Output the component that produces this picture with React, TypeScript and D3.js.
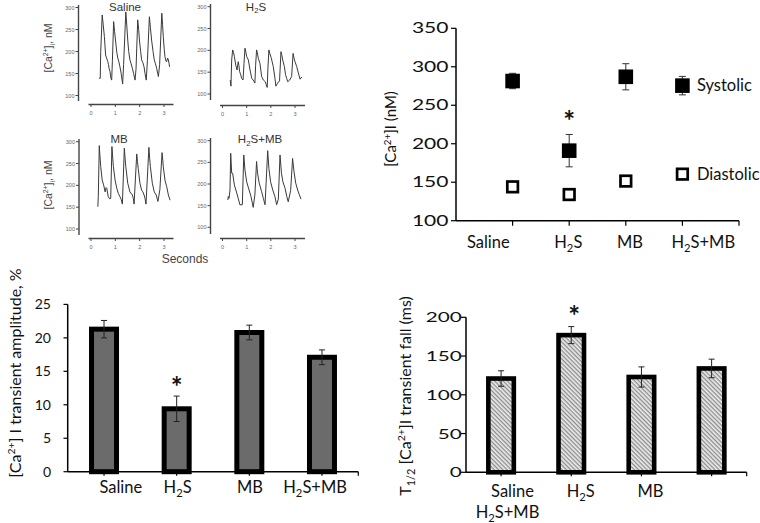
import React from "react";
import * as d3 from "d3";

type Pt = [number, number];

// ---------- DATA ----------
const traceYTicks = [100, 150, 200, 250, 300];
const traceXTicks = [0, 1, 2, 3];

const salineTrace: Pt[] = [
  [0.34, 138], [0.36, 140], [0.38, 139], [0.40, 200], [0.46, 283], [0.50, 262], [0.55, 234], [0.60, 192],
  [0.64, 185], [0.69, 177], [0.72, 170], [0.74, 162], [0.78, 155], [0.82, 139], [0.85, 135], [0.88, 180],
  [0.93, 268], [0.97, 245], [1.02, 219], [1.06, 198], [1.10, 185], [1.14, 178], [1.19, 165], [1.24, 150],
  [1.30, 126], [1.34, 170], [1.43, 290], [1.47, 260], [1.51, 226], [1.55, 200], [1.60, 181], [1.65, 172],
  [1.70, 162], [1.75, 150], [1.81, 135], [1.85, 160], [1.92, 272], [1.96, 250], [1.99, 226], [2.04, 200],
  [2.08, 181], [2.13, 175], [2.18, 165], [2.22, 150], [2.27, 135], [2.32, 180], [2.40, 279], [2.44, 255],
  [2.49, 226], [2.55, 200], [2.60, 181], [2.65, 172], [2.70, 162], [2.74, 150], [2.77, 143], [2.82, 170],
  [2.91, 287], [2.94, 262], [2.97, 234], [3.01, 205], [3.04, 188], [3.08, 178], [3.11, 177], [3.15, 185],
  [3.18, 181], [3.21, 172], [3.23, 165],
];

const h2sTrace: Pt[] = [
  [0.32, 132], [0.35, 118], [0.38, 178], [0.42, 201], [0.46, 195], [0.49, 186], [0.55, 166], [0.60, 155],
  [0.65, 174], [0.68, 165], [0.71, 151], [0.75, 145], [0.79, 136], [0.85, 132], [0.89, 170], [0.93, 205],
  [0.97, 195], [1.00, 186], [1.07, 178], [1.14, 155], [1.21, 136], [1.27, 132], [1.34, 125], [1.37, 165],
  [1.41, 201], [1.44, 195], [1.48, 182], [1.55, 170], [1.62, 140], [1.69, 132], [1.77, 128], [1.85, 115],
  [1.88, 160], [1.92, 201], [1.96, 192], [2.01, 184], [2.05, 175], [2.10, 163], [2.17, 136], [2.21, 118],
  [2.28, 125], [2.36, 130], [2.42, 197], [2.46, 188], [2.49, 178], [2.56, 163], [2.61, 144], [2.66, 135],
  [2.70, 128], [2.78, 132], [2.86, 140], [2.92, 193], [2.96, 182], [3.00, 174], [3.07, 163], [3.14, 148],
  [3.21, 134], [3.28, 139],
];

const mbTrace: Pt[] = [
  [0.28, 151], [0.30, 174], [0.34, 291], [0.37, 265], [0.40, 243], [0.46, 212], [0.52, 201], [0.58, 185],
  [0.62, 195], [0.65, 193], [0.71, 174], [0.77, 169], [0.81, 170], [0.86, 289], [0.89, 265], [0.92, 243],
  [0.99, 212], [1.06, 193], [1.12, 182], [1.19, 174], [1.24, 168], [1.29, 157], [1.37, 285], [1.40, 262],
  [1.43, 243], [1.51, 205], [1.60, 185], [1.70, 178], [1.74, 170], [1.77, 157], [1.88, 272], [1.91, 255],
  [1.94, 239], [2.01, 205], [2.08, 189], [2.13, 185], [2.18, 178], [2.22, 170], [2.26, 157], [2.38, 287],
  [2.41, 262], [2.44, 243], [2.52, 205], [2.60, 185], [2.68, 178], [2.75, 163], [2.83, 190], [2.92, 275],
  [2.95, 258], [2.97, 243], [3.04, 212], [3.11, 197], [3.18, 178], [3.25, 166],
];

const h2smbTrace: Pt[] = [
  [0.22, 163], [0.24, 171], [0.27, 167], [0.31, 186], [0.34, 271], [0.38, 225], [0.42, 225], [0.49, 198],
  [0.59, 179], [0.65, 167], [0.72, 152], [0.82, 152], [0.88, 267], [0.93, 232], [1.00, 205], [1.10, 186],
  [1.18, 171], [1.27, 146], [1.34, 175], [1.41, 252], [1.45, 225], [1.52, 202], [1.62, 182], [1.69, 167],
  [1.76, 152], [1.87, 277], [1.92, 236], [1.99, 205], [2.08, 186], [2.17, 171], [2.24, 152], [2.31, 165],
  [2.38, 267], [2.44, 225], [2.50, 205], [2.59, 190], [2.66, 171], [2.72, 159], [2.82, 185], [2.90, 259],
  [2.96, 228], [3.03, 202], [3.11, 186], [3.18, 175], [3.25, 165],
];

const groups = ["Saline", "H2S", "MB", "H2S+MB"];

const systolic = [281.5, 191, 287, 275.5];
const systolicErr = [10, 21, 17, 12];
const diastolic = [144, 134, 151.5, 160.5];
const diastolicErr = [4, 4, 6, 4];
const concTicks = [100, 150, 200, 250, 300, 350];

const amplitude = [21.3, 9.4, 20.8, 17.1];
const amplitudeErr = [1.3, 1.9, 1.1, 1.1];
const amplitudeTicks = [0, 5, 10, 15, 20, 25];

const fallTime = [121, 177, 123, 134];
const fallTimeErr = [10, 11, 13, 12];
const fallTicks = [0, 50, 100, 150, 200];

// ---------- LAYOUT ----------
const FONT = "Lato, 'Open Sans', sans-serif";
const TFONT = "'Liberation Sans', Arial, sans-serif";

const tracePanels = [
  { title: "Saline", data: salineTrace, xr: [91, 164], yr: [95.5, 7.5], axX: 78.5, axY: 104.5, yTop: 5, yBot: 101, xL: 88.5, xR: 173.5, tx: 125, ty: 10.5 },
  { title: "H2S", data: h2sTrace, xr: [222.5, 295], yr: [94, 6.7], axX: 210.5, axY: 105.5, yTop: 4, yBot: 100, xL: 220, xR: 305, tx: 256, ty: 10.5 },
  { title: "MB", data: mbTrace, xr: [91, 164], yr: [229, 141.7], axX: 79, axY: 238.5, yTop: 139, yBot: 235, xL: 88.5, xR: 173.5, tx: 119, ty: 143 },
  { title: "H2S+MB", data: h2smbTrace, xr: [222.5, 295], yr: [227.3, 140.7], axX: 210.5, axY: 238.5, yTop: 138, yBot: 234, xL: 220, xR: 305, tx: 260, ty: 143 },
];

const topRightLabelDx = [-24.3, -0.9, 4.2, 20.9];
const ampLabelDx = [16.8, 0.9, 0.7, -6.9];
const fallLabelOffset: Pt[] = [[11.4, 0], [9.5, 0], [9.1, 0], [-204.1, 21]];

function GroupText({ name, size }: { name: string; size: number }) {
  if (name.startsWith("H2S")) {
    const sub = size * 0.25;
    return (
      <>
        H
        <tspan dy={sub} fontSize={size * 0.68}>2</tspan>
        <tspan dy={-sub}>{"S" + name.slice(3)}</tspan>
      </>
    );
  }
  return <>{name}</>;
}

function CaText({ size, tail }: { size: number; tail: string }) {
  const up = size * 0.38;
  return (
    <>
      [Ca
      <tspan dy={-up} fontSize={size * 0.65}>2+</tspan>
      <tspan dy={up}>{tail}</tspan>
    </>
  );
}

function TracePanel({ p }: { p: (typeof tracePanels)[number] }) {
  const x = d3.scaleLinear().domain([0, 3]).range(p.xr);
  const y = d3.scaleLinear().domain([100, 300]).range(p.yr);
  const line = d3.line<Pt>().x((d) => x(d[0])).y((d) => y(d[1]));
  return (
    <g>
      <line x1={p.axX} x2={p.axX} y1={p.yTop} y2={p.yBot} stroke="#444" strokeWidth={1.4} />
      {traceYTicks.map((t) => (
        <g key={t}>
          <line x1={p.axX - 3} x2={p.axX} y1={y(t)} y2={y(t)} stroke="#444" strokeWidth={1} />
          <text x={p.axX - 4} y={y(t) + 2} fontSize={5.5} textAnchor="end" fill="#666" fontFamily={TFONT}>
            {t}
          </text>
        </g>
      ))}
      <line x1={p.xL} x2={p.xR} y1={p.axY} y2={p.axY} stroke="#444" strokeWidth={1.4} />
      {traceXTicks.map((t) => (
        <g key={t}>
          <line x1={x(t)} x2={x(t)} y1={p.axY} y2={p.axY + 2.5} stroke="#444" strokeWidth={1} />
          <text x={x(t)} y={p.axY + 10} fontSize={5.5} textAnchor="middle" fill="#666" fontFamily={TFONT}>
            {t}
          </text>
        </g>
      ))}
      <path d={line(p.data) || ""} fill="none" stroke="#3a3a3a" strokeWidth={1} strokeLinejoin="round" />
      <text x={p.tx} y={p.ty} fontSize={11.5} textAnchor="middle" fill="#333" fontFamily={TFONT}>
        <GroupText name={p.title} size={11.5} />
      </text>
    </g>
  );
}

function Asterisk({ x, y }: { x: number; y: number }) {
  return (
    <text x={x} y={y + 14} fontSize={28} fontWeight="bold" textAnchor="middle" fontFamily={FONT} fill="#111">
      *
    </text>
  );
}

export default function App() {
  // top-right
  const cx = d3.scalePoint<string>().domain(groups).range([456, 739]).padding(1);
  const cy = d3.scaleLinear().domain([100, 350]).range([220.7, 28.3]);

  // bottom-left
  const ax = d3.scaleBand<string>().domain(groups).range([67.7, 358.3]).paddingInner(0.656).paddingOuter(0.328);
  const ay = d3.scaleLinear().domain([0, 25]).range([471.7, 304.4]);

  // bottom-right
  const fx = d3.scaleBand<string>().domain(groups).range([466, 746.7]).paddingInner(0.637).paddingOuter(0.3185);
  const fy = d3.scaleLinear().domain([0, 200]).range([472.3, 317.3]);

  const mid = (s: d3.ScaleBand<string>, g: string) => (s(g) as number) + s.bandwidth() / 2;

  return (
    <svg width={760} height={523} style={{ position: "absolute", left: 0, top: 0, background: "#fff" }}>
      <defs>
        <pattern id="hatch" width={3} height={3} patternUnits="userSpaceOnUse" patternTransform="rotate(45)">
          <rect width={3} height={3} fill="#ececec" />
          <line x1={0} y1={0.7} x2={3} y2={0.7} stroke="#7a7a7a" strokeWidth={1.1} />
        </pattern>
      </defs>
      <rect width={760} height={523} fill="#fff" />

      {/* ---------- Trace panels ---------- */}
      {tracePanels.map((p) => (
        <TracePanel key={p.title} p={p} />
      ))}
      {[48, 185].map((cyy) => (
        <text key={cyy} transform={`translate(48,${cyy}) rotate(-90)`} fontSize={10.5} textAnchor="middle" dy="0.35em" fill="#444" fontFamily={TFONT}>
          <CaText size={10.5} tail="]" />
          <tspan dy={3} fontSize={7}>i</tspan>
          <tspan dy={-3}>, nM</tspan>
        </text>
      ))}
      <text x={185} y={263} fontSize={12} textAnchor="middle" fill="#444" fontFamily={TFONT}>
        Seconds
      </text>

      {/* ---------- Top-right: systolic / diastolic ---------- */}
      <g fontFamily={FONT}>
        <line x1={456} x2={456} y1={cy(350)} y2={cy(100)} stroke="#000" strokeWidth={1.5} />
        <line x1={456} x2={739} y1={cy(100)} y2={cy(100)} stroke="#000" strokeWidth={1.5} />
        {concTicks.map((t) => (
          <g key={t}>
            <line x1={451} x2={456} y1={cy(t)} y2={cy(t)} stroke="#000" strokeWidth={1.2} />
            <text transform={`translate(448.5,${cy(t) + 5}) scale(1.45,1)`} fontSize={14.5} textAnchor="end" fill="#111">
              {t}
            </text>
          </g>
        ))}
        {groups.map((g) => (
          <line key={g} x1={cx(g)} x2={cx(g)} y1={cy(100)} y2={cy(100) + 5} stroke="#000" strokeWidth={1.2} />
        ))}
        <line x1={739} x2={739} y1={cy(100)} y2={cy(100) + 5} stroke="#000" strokeWidth={1.2} />
        {groups.map((g, i) => (
          <text key={g} x={(cx(g) as number) + topRightLabelDx[i]} y={248.3} fontSize={16.5} textAnchor="middle" fill="#111">
            <GroupText name={g} size={16.5} />
          </text>
        ))}
        {groups.map((g, i) => {
          const x = cx(g) as number;
          return (
            <g key={g}>
              <line x1={x} x2={x} y1={cy(systolic[i] + systolicErr[i])} y2={cy(systolic[i] - systolicErr[i])} stroke="#333" strokeWidth={1} />
              <line x1={x - 3.5} x2={x + 3.5} y1={cy(systolic[i] + systolicErr[i])} y2={cy(systolic[i] + systolicErr[i])} stroke="#333" strokeWidth={1} />
              <line x1={x - 3.5} x2={x + 3.5} y1={cy(systolic[i] - systolicErr[i])} y2={cy(systolic[i] - systolicErr[i])} stroke="#333" strokeWidth={1} />
              <rect x={x - 7.3} y={cy(systolic[i]) - 7.3} width={14.6} height={14.6} fill="#000" />
              <line x1={x} x2={x} y1={cy(diastolic[i] + diastolicErr[i])} y2={cy(diastolic[i] - diastolicErr[i])} stroke="#333" strokeWidth={1} />
              <rect x={x - 5.3} y={cy(diastolic[i]) - 5.3} width={10.6} height={10.6} fill="#fff" stroke="#000" strokeWidth={2.7} />
            </g>
          );
        })}
        <text x={(cx("H2S+MB") as number) + 14.5} y={cy(systolic[3]) + 5.5} fontSize={16.5} fill="#111">
          Systolic
        </text>
        <text x={(cx("H2S+MB") as number) + 14.5} y={cy(diastolic[3]) + 5.5} fontSize={16.5} fill="#111">
          Diastolic
        </text>
        <Asterisk x={cx("H2S") as number} y={cy(systolic[1] + systolicErr[1]) - 17.5} />
        <text transform="translate(391,129) rotate(-90)" fontSize={15} textAnchor="middle" dy="0.35em" fill="#111">
          <CaText size={15} tail="]I (nM)" />
        </text>
      </g>

      {/* ---------- Bottom-left: amplitude ---------- */}
      <g fontFamily={FONT}>
        {groups.map((g, i) => (
          <rect key={g} x={ax(g)} y={ay(amplitude[i])} width={ax.bandwidth()} height={ay(0) - ay(amplitude[i])} fill="#6b6b6b" stroke="#000" strokeWidth={5} />
        ))}
        {groups.map((g, i) => {
          const x = mid(ax, g);
          const t = ay(amplitude[i] + amplitudeErr[i]);
          const b = ay(amplitude[i] - amplitudeErr[i]);
          return (
            <g key={g} stroke="#222" strokeWidth={1}>
              <line x1={x} x2={x} y1={t} y2={b} />
              <line x1={x - 3} x2={x + 3} y1={t} y2={t} />
              <line x1={x - 3} x2={x + 3} y1={b} y2={b} />
            </g>
          );
        })}
        <line x1={67.7} x2={67.7} y1={ay(25)} y2={ay(0)} stroke="#000" strokeWidth={1.5} />
        <line x1={67.7} x2={358.3} y1={ay(0)} y2={ay(0)} stroke="#000" strokeWidth={1.5} />
        {amplitudeTicks.map((t) => (
          <g key={t}>
            <line x1={63.5} x2={67.7} y1={ay(t)} y2={ay(t)} stroke="#000" strokeWidth={1.2} />
            <text x={51} y={ay(t) + 5} fontSize={14} textAnchor="end" fill="#111">
              {t}
            </text>
          </g>
        ))}
        {groups.map((g) => (
          <line key={g} x1={mid(ax, g)} x2={mid(ax, g)} y1={ay(0)} y2={ay(0) + 4} stroke="#000" strokeWidth={1.2} />
        ))}
        <line x1={358.3} x2={358.3} y1={ay(0)} y2={ay(0) + 4} stroke="#000" strokeWidth={1.2} />
        {groups.map((g, i) => (
          <text key={g} x={mid(ax, g) + ampLabelDx[i]} y={493.3} fontSize={16.5} textAnchor="middle" fill="#111">
            <GroupText name={g} size={16.5} />
          </text>
        ))}
        <Asterisk x={mid(ax, "H2S")} y={ay(amplitude[1] + amplitudeErr[1]) - 13.5} />
        <text transform="translate(15,373) rotate(-90)" fontSize={16} textAnchor="middle" dy="0.35em" fill="#111">
          <CaText size={16} tail="] I transient amplitude, %" />
        </text>
      </g>

      {/* ---------- Bottom-right: T1/2 fall ---------- */}
      <g fontFamily={FONT}>
        {groups.map((g, i) => (
          <rect key={g} x={fx(g)} y={fy(fallTime[i])} width={fx.bandwidth()} height={fy(0) - fy(fallTime[i])} fill="url(#hatch)" stroke="#000" strokeWidth={4.6} />
        ))}
        {groups.map((g, i) => {
          const x = mid(fx, g);
          const t = fy(fallTime[i] + fallTimeErr[i]);
          const b = fy(fallTime[i] - fallTimeErr[i]);
          return (
            <g key={g} stroke="#222" strokeWidth={1}>
              <line x1={x} x2={x} y1={t} y2={b} />
              <line x1={x - 3} x2={x + 3} y1={t} y2={t} />
              <line x1={x - 3} x2={x + 3} y1={b} y2={b} />
            </g>
          );
        })}
        <line x1={466} x2={466} y1={fy(200)} y2={fy(0)} stroke="#000" strokeWidth={1.5} />
        <line x1={466} x2={746.7} y1={fy(0)} y2={fy(0)} stroke="#000" strokeWidth={1.5} />
        {fallTicks.map((t) => (
          <g key={t}>
            <line x1={461} x2={466} y1={fy(t)} y2={fy(t)} stroke="#000" strokeWidth={1.2} />
            <text transform={`translate(461.7,${fy(t) + 5}) scale(1.48,1)`} fontSize={14} textAnchor="end" fill="#111">
              {t}
            </text>
          </g>
        ))}
        {groups.map((g) => (
          <line key={g} x1={mid(fx, g)} x2={mid(fx, g)} y1={fy(0)} y2={fy(0) + 4} stroke="#000" strokeWidth={1.2} />
        ))}
        <line x1={746.7} x2={746.7} y1={fy(0)} y2={fy(0) + 4} stroke="#000" strokeWidth={1.2} />
        {groups.map((g, i) => (
          <text key={g} x={mid(fx, g) + fallLabelOffset[i][0]} y={497 + fallLabelOffset[i][1]} fontSize={16.5} textAnchor="middle" fill="#111">
            <GroupText name={g} size={16.5} />
          </text>
        ))}
        <Asterisk x={mid(fx, "H2S") + 3} y={fy(fallTime[1] + fallTimeErr[1]) - 15} />
        <text transform="translate(405,396) rotate(-90)" fontSize={16} textAnchor="middle" dy="0.35em" fill="#111">
          T<tspan dy={4} fontSize={11}>1/2</tspan>
          <tspan dy={-4}> </tspan>
          <CaText size={16} tail="]I transient fall (ms)" />
        </text>
      </g>
    </svg>
  );
}
